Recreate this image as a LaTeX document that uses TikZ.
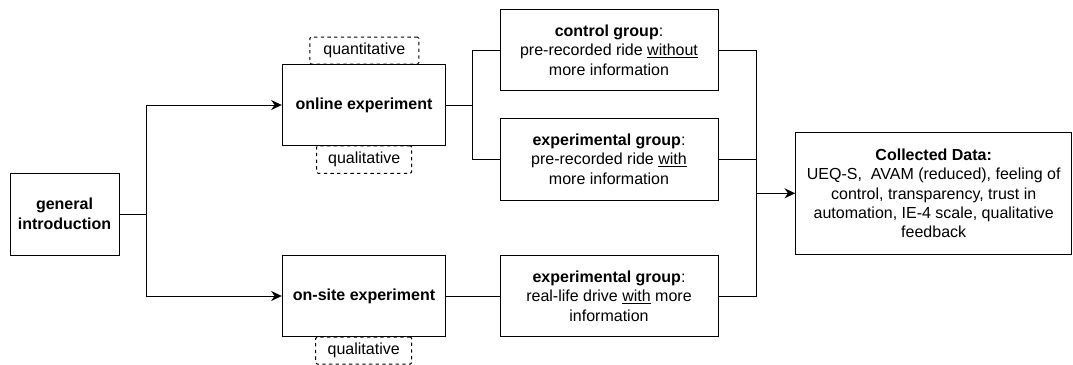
\documentclass[tikz,border=0pt]{standalone}
\usepackage{fontspec}
\setmainfont{Liberation Sans}
\usetikzlibrary{arrows.meta}
\begin{document}
\begin{tikzpicture}[x=0.75pt,y=-0.75pt,
  every node/.style={font=\fontsize{12}{14.6}\selectfont, align=center, inner sep=0pt},
  box/.style 2 args={draw=black, line width=0.75pt, minimum width=#1*0.75pt, minimum height=#2*0.75pt},
  tag/.style 2 args={draw=black, line width=0.75pt, dash pattern=on 2.5pt off 2.5pt, rounded corners=1pt, minimum width=#1*0.75pt, minimum height=#2*0.75pt},
  conn/.style={line width=0.75pt},
  arr/.style={line width=0.75pt, -{Stealth[length=8pt,width=7.5pt,inset=2.6pt]}}
]
\useasboundingbox (0,0) rectangle (1073,364);
\node[box={109}{82}] (intro) at (64.5,214) {\textbf{general}\\\textbf{introduction}};
\node[box={163.4}{81.7}] (online) at (364,105) {\textbf{online experiment}};
\node[box={163.4}{81.7}] (onsite) at (364,296) {\textbf{on-site experiment}};
\node[tag={109}{27}] (quant) at (364.3,50.5) {quantitative};
\node[tag={95}{27.5}] (qual1) at (364.2,159.5) {qualitative};
\node[tag={96}{27}] (qual2) at (363.7,350.5) {qualitative};
\node[box={218}{81.7}] (control) at (609,50) {\textbf{control group}:\\pre-recorded ride \underline{without}\\more information};
\node[box={218}{82}] (exp1) at (609,159) {\textbf{experimental group}:\\pre-recorded ride \underline{with}\\more information};
\node[box={218}{81}] (exp2) at (609,296) {\textbf{experimental group}:\\real-life drive \underline{with} more\\information};
\node[box={276}{122}] (data) at (933.7,193.3) {\textbf{Collected Data:}\\UEQ-S,\ \ AVAM (reduced), feeling of\\control, transparency, trust in\\automation, IE-4 scale, qualitative\\feedback};
\coordinate (j1) at (146,214);
\coordinate (j2) at (472.7,105);
\coordinate (j3) at (756.7,193.3);
\draw[conn] (intro.east) -- (j1);
\draw[arr] (j1) |- (online.west);
\draw[arr] (j1) |- (onsite.west);
\draw[conn] (online.east) -- (j2);
\draw[conn] (j2) |- (control.west);
\draw[conn] (j2) |- (exp1.west);
\draw[conn] (onsite.east) -- (exp2.west);
\draw[conn] (control.east) -| (j3);
\draw[conn] (exp1.east) -| (j3);
\draw[conn] (exp2.east) -| (j3);
\draw[arr] (j3) -- (data.west);
\end{tikzpicture}
\end{document}
